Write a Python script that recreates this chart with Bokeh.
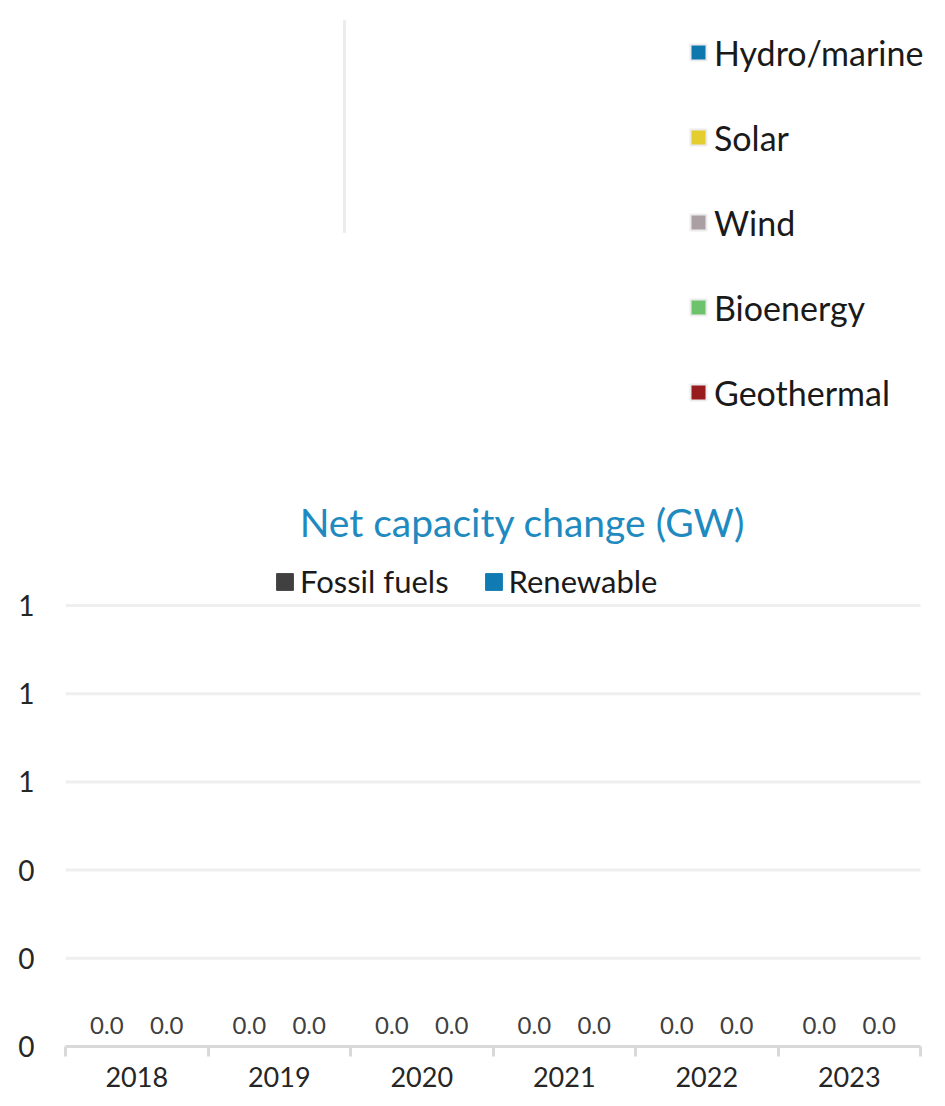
import numpy as np
from bokeh.plotting import figure
from bokeh.models import (Range1d, Legend, LegendItem, FixedTicker,
                          NumeralTickFormatter, Label, ColumnDataSource)
from bokeh.core.properties import value
from bokeh.transform import dodge
from bokeh.embed import file_html
from bokeh.resources import INLINE

FONT = "Lato"

# ---------------- data ----------------
sources = ["Hydro/marine", "Solar", "Wind", "Bioenergy", "Geothermal"]
source_values = [0.0, 0.0, 0.0, 0.0, 0.0]
source_colors = ["#0e77ae", "#e3cd2f", "#aa9fa3", "#6dc36b", "#981b1e"]

years = ["2018", "2019", "2020", "2021", "2022", "2023"]
fossil_fuels = [0.0, 0.0, 0.0, 0.0, 0.0, 0.0]
renewable = [0.0, 0.0, 0.0, 0.0, 0.0, 0.0]
series = ["Fossil fuels", "Renewable"]
series_colors = ["#404040", "#0f7bb2"]
y_ticks = [0, 0.2, 0.4, 0.6, 0.8, 1.0]

chart_title = "Net capacity change (GW)"

# ---------------- layout (pixels) ----------------
W = 942
LEFT = 65            # frame left
FRAME_W = W - LEFT
FRAME_H = 1046       # frame from top of canvas down to the x axis
BOTTOM = 58          # room below the x axis for its labels
CAT_PX = 142.5       # width of one year group
Y_UNIT = 441.0       # pixels per 1 GW
PIE_CX, PIE_CY, PIE_R = 344.0, 232.0, 212.0

p = figure(frame_width=FRAME_W, frame_height=FRAME_H, output_backend="svg",
           toolbar_location=None,
           x_range=Range1d(0, FRAME_W / CAT_PX),
           y_range=Range1d(0, FRAME_H / Y_UNIT),
           min_border_left=LEFT, min_border_right=0, min_border_top=0,
           min_border_bottom=BOTTOM)
p.outline_line_color = None
p.grid.visible = False

# ---------------- pie (extra ranges, top part of the canvas) ----------------
p.extra_x_ranges = {"pie_x": Range1d((LEFT - PIE_CX) / PIE_R, (W - PIE_CX) / PIE_R)}
p.extra_y_ranges = {"pie_y": Range1d((PIE_CY - FRAME_H) / PIE_R, PIE_CY / PIE_R)}

vals = np.array(source_values, dtype=float)
total = vals.sum()
frac = vals / total if total > 0 else np.zeros_like(vals)
cum = np.concatenate([[0.0], np.cumsum(frac)])
start = np.pi / 2 - 2 * np.pi * cum[:-1]
end = np.pi / 2 - 2 * np.pi * cum[1:]
pie_src = ColumnDataSource(dict(name=sources, value=source_values, color=source_colors,
                                start=start, end=end,
                                x1=np.cos(start), y1=np.sin(start)))
wedges = p.wedge(x=0, y=0, radius=1, start_angle="start", end_angle="end",
                 direction="clock", fill_color="color", line_color="#ececec",
                 line_width=2, source=pie_src,
                 x_range_name="pie_x", y_range_name="pie_y")
# zero-sized slices: only their borders (a line from centre to rim) are visible
wedges.visible = bool(total > 0)
p.segment(x0=0, y0=0, x1="x1", y1="y1", line_color="#ececec", line_width=2,
          source=pie_src, x_range_name="pie_x", y_range_name="pie_y")

top_legend = Legend(items=[LegendItem(label=s, renderers=[wedges], index=i)
                           for i, s in enumerate(sources)],
                    location=(688 - LEFT, FRAME_H - 413), orientation="vertical",
                    label_text_font=FONT, label_text_font_size="34px",
                    label_text_color="#1a1a1a",
                    glyph_width=20, glyph_height=20, label_height=42,
                    spacing=43, label_standoff=6, padding=0, margin=0,
                    border_line_color=None, background_fill_alpha=0)
p.add_layout(top_legend)

# ---------------- bars ----------------
xpos = np.arange(len(years)) + 0.5
bar_src = ColumnDataSource(dict(x=xpos, year=years, fossil=fossil_fuels, renewable=renewable,
                                fossil_lbl=[f"{v:.1f}" for v in fossil_fuels],
                                renew_lbl=[f"{v:.1f}" for v in renewable]))

# horizontal gridlines, limited to the category extent
p.segment(x0=0, x1=len(years), y0=y_ticks, y1=y_ticks, line_color="#efefef", line_width=3)

r_f = p.vbar(x=dodge("x", -0.2, range=p.x_range), top="fossil", width=0.36,
             color=series_colors[0], source=bar_src)
r_r = p.vbar(x=dodge("x", 0.2, range=p.x_range), top="renewable", width=0.36,
             color=series_colors[1], source=bar_src)
for col, lbl, off in (("fossil", "fossil_lbl", -0.21), ("renewable", "renew_lbl", 0.21)):
    p.text(x=dodge("x", off, range=p.x_range), y=col, text=lbl, source=bar_src,
           text_align="center", text_baseline="middle", y_offset=-21,
           text_font=value(FONT), text_font_size="24px", text_color="#404040")

# y axis
p.yaxis.ticker = FixedTicker(ticks=y_ticks)
p.yaxis.formatter = NumeralTickFormatter(format="0")
p.yaxis.axis_line_color = None
p.yaxis.major_tick_line_color = None
p.yaxis.minor_tick_line_color = None
p.yaxis.major_tick_out = 0
p.yaxis.major_label_standoff = 31
p.yaxis.major_label_text_font = FONT
p.yaxis.major_label_text_font_size = "28px"
p.yaxis.major_label_text_color = "#262626"

# x axis
p.xaxis.ticker = FixedTicker(ticks=list(xpos), minor_ticks=list(range(len(years) + 1)))
p.xaxis.major_label_overrides = {float(x): y for x, y in zip(xpos, years)}
p.xaxis.bounds = (0, len(years))
p.xaxis.axis_line_color = "#d9d9d9"
p.xaxis.axis_line_width = 3
p.xaxis.major_tick_line_color = None
p.xaxis.major_tick_out = 10
p.xaxis.major_tick_in = 0
p.xaxis.minor_tick_line_color = "#d9d9d9"
p.xaxis.minor_tick_line_width = 3
p.xaxis.minor_tick_out = 10
p.xaxis.minor_tick_in = 0
p.xaxis.major_label_standoff = 10
p.xaxis.major_label_text_font = FONT
p.xaxis.major_label_text_font_size = "27px"
p.xaxis.major_label_text_color = "#262626"

title = Label(x=522 - LEFT, y=FRAME_H - 521, x_units="screen", y_units="screen",
              text=chart_title, text_align="center", text_baseline="middle",
              text_font=FONT, text_font_size="39px", text_color="#1f8ac0")
p.add_layout(title)

bot_legend = Legend(items=[LegendItem(label=series[0], renderers=[r_f]),
                           LegendItem(label=series[1], renderers=[r_r])],
                    location=(274 - LEFT, FRAME_H - 601), orientation="horizontal",
                    label_text_font=FONT, label_text_font_size="31px",
                    label_text_color="#1a1a1a",
                    glyph_width=21, glyph_height=21, label_height=40,
                    spacing=34, label_standoff=5, padding=0, margin=0,
                    border_line_color=None, background_fill_alpha=0)
p.add_layout(bot_legend)

open("out.html", "w").write(file_html(p, INLINE))
